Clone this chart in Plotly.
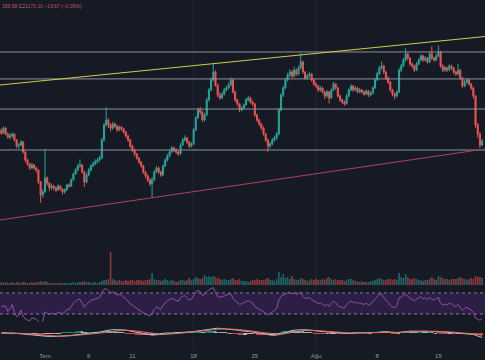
import numpy as np
import pandas as pd
import plotly.graph_objects as go

# ---------------- data (BTC, 6h candles, 26 Jun - 20 Aug 2022) ----------------
start_time = "2022-06-26 00:00"
first_open = 21600

close = [
    21480, 21700, 21450, 21330,  21370, 21450, 21210, 20960,  21000, 21130, 20720, 20390,
    20230, 20070, 20190, 20070,  19980, 19500, 18960, 19090,  19660, 19450, 19250, 19330,
    19250, 19170, 19330, 19210,  19090, 19170, 19370, 19330,  19580, 19820, 19980, 20150,
    20190, 19900, 19490, 19780,  19980, 20150, 20230, 20310,  20390, 20470, 21210, 21820,
    22020, 21820, 21700, 21860,  21780, 21620, 21740, 21660,  21530, 21370, 21210, 20960,
    20800, 20640, 20470, 20310,  20150, 19900, 19740, 19580,  19410, 19580, 19900, 20070,
    19900, 19780, 20150, 20390,  20560, 20720, 20880, 20800,  20720, 20640, 21000, 21210,
    21290, 21130, 20960, 21050,  21620, 22110, 22430, 22350,  22020, 22230, 22840, 23250,
    23660, 23980, 23450, 23040,  22920, 23080, 23250, 23330,  23450, 23660, 23170, 22840,
    22680, 22430, 22510, 22640,  22840, 22920, 22760, 22680,  22230, 22020, 21860, 21700,
    21450, 21210, 20960, 21050,  21210, 21290, 21450, 22430,  23040, 23330, 23660, 23860,
    23980, 23820, 24060, 23900,  24150, 24390, 23980, 23740,  23820, 23900, 23660, 23490,
    23410, 23250, 23330, 23170,  23000, 23170, 22920, 23250,  23490, 23330, 23000, 22840,
    22760, 22680, 23000, 23250,  23410, 23250, 23330, 23170,  23250, 23170, 23080, 23210,
    23040, 23120, 23330, 23660,  23900, 24150, 24230, 23980,  23740, 23570, 23250, 23080,
    23000, 23170, 24060, 24230,  24470, 24720, 24550, 24310,  24230, 24060, 24310, 24470,
    24640, 24470, 24550, 24390,  24720, 24550, 24470, 24640,  24800, 24230, 24060, 24150,
    24060, 24230, 24150, 23980,  23900, 24060, 23740, 23410,  23570, 23660, 23490, 23330,
    23000, 21820, 21450, 21000,  21170,
]
high = [
    21680, 21760, 21730, 21500,  21480, 21520, 21480, 21250,  21080, 21200, 21160, 20760,
    20450, 20280, 20280, 20230,  20120, 20010, 19540, 19200,  20850, 19720, 19480, 19420,
    19380, 19300, 19400, 19360,  19250, 19240, 19420, 19440,  19640, 19880, 20060, 20240,
    20420, 20230, 19950, 19860,  20060, 20220, 20340, 20420,  20480, 20560, 21290, 21900,
    22550, 22100, 21900, 21950,  21920, 21830, 21800, 21780,  21700, 21580, 21420, 21250,
    21010, 20850, 20680, 20520,  20360, 20200, 19950, 19800,  19650, 19700, 19980, 20150,
    20120, 19960, 20220, 20460,  20640, 20800, 20960, 20930,  20870, 20780, 21080, 21290,
    21400, 21330, 21180, 21120,  21700, 22200, 22520, 22560,  22400, 22310, 22920, 23330,
    23750, 24350, 24050, 23500,  23150, 23160, 23330, 23420,  23560, 23760, 23700, 23220,
    22900, 22720, 22580, 22700,  22920, 23010, 22980, 22820,  22720, 22280, 22080, 21910,
    21760, 21500, 21260, 21130,  21290, 21380, 21530, 22520,  23120, 23420, 23740, 23950,
    24100, 24060, 24200, 24120,  24240, 24760, 24450, 24020,  23900, 23990, 23940, 23700,
    23560, 23460, 23420, 23380,  23220, 23250, 23210, 23320,  23580, 23540, 23380, 23060,
    22900, 22820, 23080, 23320,  23480, 23450, 23400, 23380,  23320, 23290, 23220, 23270,
    23250, 23190, 23400, 23740,  23990, 24230, 24400, 24280,  24020, 23800, 23610, 23300,
    23150, 23240, 24140, 24320,  24560, 24950, 24780, 24600,  24380, 24280, 24390, 24550,
    24720, 24680, 24630, 24590,  24800, 25030, 24600, 24720,  25070, 24850, 24290, 24230,
    24200, 24300, 24280, 24190,  24030, 24320, 24100, 23790,  23650, 23740, 23700, 23540,
    23380, 23050, 21900, 21520,  21260,
]
low = [
    21420, 21450, 21390, 21260,  21240, 21300, 21150, 20880,  20850, 20950, 20650, 20300,
    20150, 19980, 20020, 19990,  19880, 19420, 18640, 18850,  19050, 19350, 19120, 19180,
    19150, 19080, 19130, 19140,  18980, 19020, 19130, 19260,  19290, 19540, 19780, 19930,
    20080, 19840, 19290, 19440,  19720, 19920, 20100, 20180,  20250, 20330, 20430, 21150,
    21760, 21700, 21560, 21620,  21690, 21540, 21570, 21580,  21460, 21300, 21140, 20880,
    20720, 20560, 20400, 20240,  20080, 19830, 19660, 19500,  19320, 18880, 19520, 19850,
    19830, 19700, 19740, 20100,  20330, 20500, 20680, 20720,  20640, 20560, 20600, 20960,
    21150, 21050, 20880, 20900,  21000, 21580, 22060, 22250,  21950, 21960, 22180, 22780,
    23200, 23600, 23380, 22950,  22850, 22870, 23020, 23190,  23280, 23400, 23100, 22760,
    22600, 22350, 22380, 22460,  22600, 22780, 22690, 22600,  22150, 21940, 21780, 21620,
    21380, 21130, 20720, 20880,  20990, 21140, 21220, 21400,  22380, 22960, 23280, 23600,
    23780, 23740, 23760, 23820,  23850, 24100, 23900, 23660,  23680, 23760, 23590, 23410,
    23330, 23170, 23180, 23100,  22880, 22940, 22700, 22880,  23200, 23260, 22930, 22760,
    22680, 22600, 22650, 22950,  23200, 23180, 23200, 23100,  23120, 23100, 23010, 23040,
    22960, 22990, 23080, 23290,  23620, 23860, 24080, 23910,  23660, 23490, 23170, 22990,
    22860, 22950, 23120, 23980,  24180, 24400, 24470, 24230,  24150, 23980, 24020, 24260,
    24420, 24400, 24410, 24320,  24350, 24480, 24400, 24420,  24580, 24150, 23980, 23990,
    23980, 24010, 24070, 23910,  23820, 23850, 23660, 23330,  23360, 23500, 23420, 23250,
    22900, 21700, 21300, 20880,  20950,
]
volume = [
    3, 2, 3, 2,  2, 3, 2, 3,  3, 2, 3, 3,  2, 2, 3, 2,  3, 3, 4, 3,  4, 3, 2, 2,
    2, 1.5, 2, 2,  2, 2, 2, 1.5,  2, 3, 2, 3,  3, 3, 4, 3,  3, 2, 3, 3,  2, 3, 4, 5,
    5, 6, 33, 6,  5, 4, 5, 4,  4, 5, 4, 5,  5, 4, 5, 5,  5, 4, 5, 5,  6, 12, 6, 5,
    5, 4, 5, 6,  5, 4, 5, 4,  3, 4, 5, 5,  4, 5, 7, 5,  6, 8, 7, 6,  7, 10, 8, 9,
    8, 9, 8, 7,  6, 5, 6, 5,  5, 6, 7, 5,  5, 6, 4, 4,  4, 3, 4, 5,  5, 6, 5, 5,
    5, 6, 7, 5,  5, 4, 6, 13,  8, 11, 7, 8,  6, 9, 6, 5,  5, 7, 6, 5,  4, 5, 6, 5,
    6, 5, 5, 6,  5, 7, 8, 6,  5, 6, 5, 5,  5, 4, 5, 6,  6, 5, 4, 4,  3, 4, 3, 3,
    3, 4, 4, 5,  6, 7, 6, 5,  5, 6, 6, 5,  6, 5, 12, 8,  7, 11, 8, 6,  6, 7, 6, 5,
    5, 4, 5, 5,  6, 8, 6, 5,  9, 8, 7, 6,  6, 5, 6, 6,  6, 7, 8, 7,  6, 5, 6, 7,
    6, 9, 8, 8,  7,
]

levels = [24800, 23700, 22470, 20800]
trend_upper = {"t": ["2022-06-25 20:27", "2022-08-20 07:58"], "p": [23452, 25431]}
trend_lower = {"t": ["2022-06-25 20:27", "2022-08-20 07:58"], "p": [17944, 20841]}

tick_dates = ["2022-07-01", "2022-07-06", "2022-07-11", "2022-07-18",
              "2022-07-25", "2022-08-01", "2022-08-08", "2022-08-15"]
tick_labels = ["Tem", "6", "11", "18", "25", "Ağu", "8", "15"]
grid_dates = ["2022-07-18", "2022-08-01"]

x_range = ["2022-06-25 20:27", "2022-08-20 07:58"]
header = ("<span style='color:#c7505b'>156.58 </span><span style='color:#9598a1'>C</span>"
          "<span style='color:#c7505b'>21170.10 −19.67 (−0.09%)</span>")

# ---------------- derived ----------------
t = pd.date_range(start_time, periods=len(close), freq="6h")
c = np.array(close, dtype=float)
o = np.concatenate([[first_open], c[:-1]])  # continuous market: open = previous close

s = pd.Series(c)
delta = s.diff().fillna(0)
gain = delta.clip(lower=0).ewm(alpha=1 / 14, adjust=True).mean()
loss = (-delta.clip(upper=0)).ewm(alpha=1 / 14, adjust=True).mean()
rsi = 100 - 100 / (1 + gain / loss.replace(0, np.nan))
rsi = rsi.bfill()

ema12 = s.ewm(span=12, adjust=False).mean()
ema26 = s.ewm(span=26, adjust=False).mean()
macd = ema12 - ema26
signal = macd.ewm(span=9, adjust=False).mean()
hist = macd - signal
hist_col = []
for i, h in enumerate(hist):
    prev = hist.iloc[i - 1] if i > 0 else h
    if h >= 0:
        hist_col.append("#26a69a" if h >= prev else "#b2dfdb")
    else:
        hist_col.append("#ff5252" if h < prev else "#ffcdd2")

UP, DN = "#26a69a", "#ef5350"
vol_col = ["rgba(38,166,154,0.55)" if cc >= oo else "rgba(239,83,80,0.55)" for cc, oo in zip(c, o)]

H = 360.0
def frac(px):
    return 1 - px / H

fig = go.Figure()
fig.add_trace(go.Bar(x=t, y=volume, marker_color=vol_col, marker_line_width=0,
                     yaxis="y2", xaxis="x", hoverinfo="skip"))
fig.add_trace(go.Candlestick(x=t, open=o, high=high, low=low, close=c,
                             increasing=dict(line=dict(color=UP, width=1), fillcolor=UP),
                             decreasing=dict(line=dict(color=DN, width=1), fillcolor=DN),
                             whiskerwidth=0, yaxis="y", xaxis="x"))
fig.add_trace(go.Scatter(x=t, y=rsi, mode="lines", line=dict(color="#9050a8", width=1),
                         yaxis="y3", xaxis="x"))
fig.add_trace(go.Bar(x=t, y=hist, marker_color=hist_col, marker_line_width=0,
                     yaxis="y4", xaxis="x", opacity=0.8))
fig.add_trace(go.Scatter(x=t, y=macd, mode="lines", line=dict(color="#a9c3ee", width=1),
                         yaxis="y4", xaxis="x"))
fig.add_trace(go.Scatter(x=t, y=signal, mode="lines", line=dict(color="#e2704a", width=1),
                         yaxis="y4", xaxis="x"))

shapes = []
for g in grid_dates:
    shapes.append(dict(type="line", xref="x", yref="paper", x0=g, x1=g, y0=frac(349), y1=1,
                       line=dict(color="#242835", width=1), layer="below"))
for lv in levels:
    shapes.append(dict(type="line", xref="paper", yref="y", x0=0, x1=1, y0=lv, y1=lv,
                       line=dict(color="#8f929b", width=1)))
shapes.append(dict(type="line", xref="x", yref="y",
                   x0=trend_upper["t"][0], x1=trend_upper["t"][1],
                   y0=trend_upper["p"][0], y1=trend_upper["p"][1],
                   line=dict(color="#cfd04a", width=1)))
shapes.append(dict(type="line", xref="x", yref="y",
                   x0=trend_lower["t"][0], x1=trend_lower["t"][1],
                   y0=trend_lower["p"][0], y1=trend_lower["p"][1],
                   line=dict(color="#b93d63", width=1)))
shapes.append(dict(type="rect", xref="paper", yref="y3", x0=0, x1=1, y0=30, y1=70,
                   fillcolor="#2c1e45", line=dict(width=0), layer="below"))
for lv in (70, 30):
    shapes.append(dict(type="line", xref="paper", yref="y3", x0=0, x1=1, y0=lv, y1=lv,
                       line=dict(color="#8a7a9e", width=1, dash="3px,3px"), layer="below"))

m = float(np.nanmax(np.abs(macd)))
k = m / 5.0  # value per pixel in the MACD pane
BG = "#161a25"
fig.update_layout(
    width=485, height=360, margin=dict(l=0, r=0, t=0, b=0),
    paper_bgcolor=BG, plot_bgcolor=BG, showlegend=False, bargap=0.25,
    shapes=shapes,
    xaxis=dict(range=x_range, anchor="y4", rangeslider=dict(visible=False),
               showgrid=False, zeroline=False, showline=False, ticks="",
               tickvals=tick_dates, ticktext=tick_labels,
               tickfont=dict(size=6, color="#9598a1", family="Liberation Sans")),
    yaxis=dict(domain=[frac(287), 1], range=[15210, 26920], visible=False, showgrid=False),
    yaxis2=dict(overlaying="y", range=[-2, 285], visible=False, showgrid=False),
    yaxis3=dict(domain=[frac(322), frac(287)], range=[14.8, 81.4], visible=False, showgrid=False),
    yaxis4=dict(domain=[frac(351), frac(322)], range=[-18 * k, 11 * k], visible=False,
                showgrid=False),
    annotations=[dict(xref="paper", yref="paper", x=0, y=1, xanchor="left", yanchor="top",
                      yshift=-1, text=header, showarrow=False,
                      font=dict(size=5, family="Liberation Sans"))],
)

fig.write_html("out.html", config={"displayModeBar": False},
               post_script="document.body.style.margin='0';document.body.style.background='#161a25';")
